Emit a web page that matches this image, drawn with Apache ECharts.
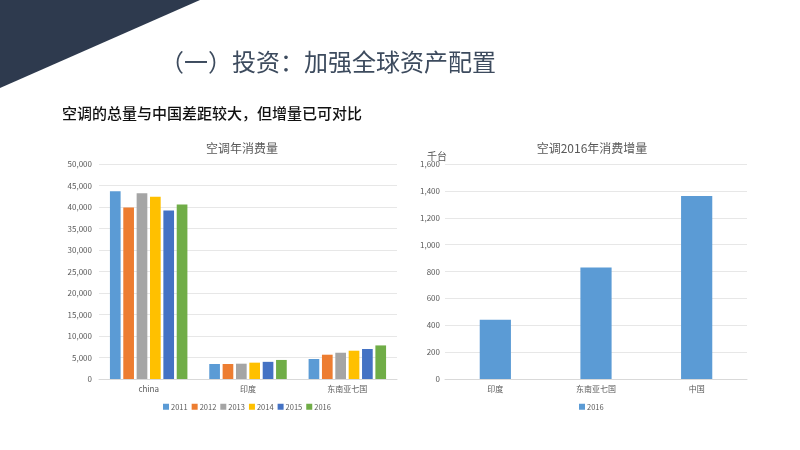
<!DOCTYPE html>
<html>
<head>
<meta charset="utf-8">
<script src="https://cdn.jsdelivr.net/npm/echarts@6/dist/echarts.min.js"></script>
<style>html,body{margin:0;padding:0;background:#fff;}#c{width:800px;height:450px;}</style>
</head>
<body>
<div id="c"></div>
<script>
const regions = ['china', '印度', '东南亚七国'];
const years = ['2011', '2012', '2013', '2014', '2015', '2016'];
const v2011 = [43650, 3490, 4650];
const v2012 = [39900, 3490, 5650];
const v2013 = [43200, 3560, 6110];
const v2014 = [42400, 3800, 6580];
const v2015 = [39200, 3990, 6980];
const v2016 = [40560, 4430, 7810];
const yearValues = [v2011, v2012, v2013, v2014, v2015, v2016];
const incCategories = ['印度', '东南亚七国', '中国'];
const inc2016 = [441, 830, 1362];
const yearColors = ['#5b9bd5', '#ed7d31', '#a5a5a5', '#ffc000', '#4472c4', '#70ad47'];

const FONT = '"Noto Sans CJK SC", "Noto Sans", sans-serif';
const grey = '#595959';
const chart = echarts.init(document.getElementById('c'));

const leftSeries = years.map((y, i) => ({
  name: y, type: 'bar', xAxisIndex: 0, yAxisIndex: 0,
  data: yearValues[i], itemStyle: { color: yearColors[i] },
  barGap: '25%', barCategoryGap: '22%'
}));

const axisLabelStyle = { color: grey, fontSize: 8, fontFamily: FONT };

chart.setOption({
  animation: false,
  textStyle: { fontFamily: FONT },
  graphic: [
    { type: 'polygon', shape: { points: [[0, 0], [200, 0], [0, 88]] }, style: { fill: '#2e3a4e' } },
    { type: 'text', left: 160, top: 50, style: { text: '（一）投资：加强全球资产配置', fill: '#3d4b5e', font: '24px "Noto Sans CJK SC"' } },
    { type: 'text', left: 62, top: 106, style: { text: '空调的总量与中国差距较大，但增量已可对比', fill: '#111', font: '500 15px "Noto Sans CJK SC"' } },
    { type: 'text', left: 427, top: 151, style: { text: '千台', fill: grey, font: '10px "Noto Sans CJK SC"' } }
  ],
  title: [
    { text: '空调年消费量', left: 237, top: 137, textAlign: 'center', textStyle: { color: grey, fontSize: 12, fontWeight: 'normal', fontFamily: FONT } },
    { text: '空调2016年消费增量', left: 587, top: 137, textAlign: 'center', textStyle: { color: grey, fontSize: 12, fontWeight: 'normal', fontFamily: FONT } }
  ],
  legend: [
    { data: years, left: 158, top: 398, itemWidth: 6, itemHeight: 6, itemGap: 4, icon: 'rect',
      textStyle: { color: grey, fontSize: 7.5, fontFamily: FONT, padding: [0, 0, 0, -3] } },
    { data: ['增量2016'], left: 574, top: 398, itemWidth: 6, itemHeight: 6, icon: 'rect',
      formatter: () => '2016', textStyle: { color: grey, fontSize: 7.5, fontFamily: FONT, padding: [0, 0, 0, -3] } }
  ],
  grid: [
    { left: 99, right: 403, top: 164, bottom: 71 },
    { left: 445, right: 53, top: 164, bottom: 71 }
  ],
  xAxis: [
    { type: 'category', gridIndex: 0, data: regions, axisTick: { show: false },
      axisLine: { lineStyle: { color: '#d9d9d9' } }, axisLabel: Object.assign({ margin: 6 }, axisLabelStyle) },
    { type: 'category', gridIndex: 1, data: incCategories, axisTick: { show: false },
      axisLine: { lineStyle: { color: '#d9d9d9' } }, axisLabel: Object.assign({ margin: 6 }, axisLabelStyle) }
  ],
  yAxis: [
    { type: 'value', gridIndex: 0, min: 0, max: 50000, interval: 5000,
      axisLine: { show: false }, axisTick: { show: false },
      splitLine: { lineStyle: { color: '#e7e7e7' } }, axisLabel: Object.assign({ margin: 7 }, axisLabelStyle) },
    { type: 'value', gridIndex: 1, min: 0, max: 1600, interval: 200,
      axisLine: { show: false }, axisTick: { show: false },
      splitLine: { lineStyle: { color: '#e7e7e7' } }, axisLabel: Object.assign({ margin: 5 }, axisLabelStyle) }
  ],
  series: leftSeries.concat([
    { name: '增量2016', type: 'bar', xAxisIndex: 1, yAxisIndex: 1, data: inc2016,
      barWidth: '31%', itemStyle: { color: '#5b9bd5' } }
  ])
});
</script>
</body>
</html>
